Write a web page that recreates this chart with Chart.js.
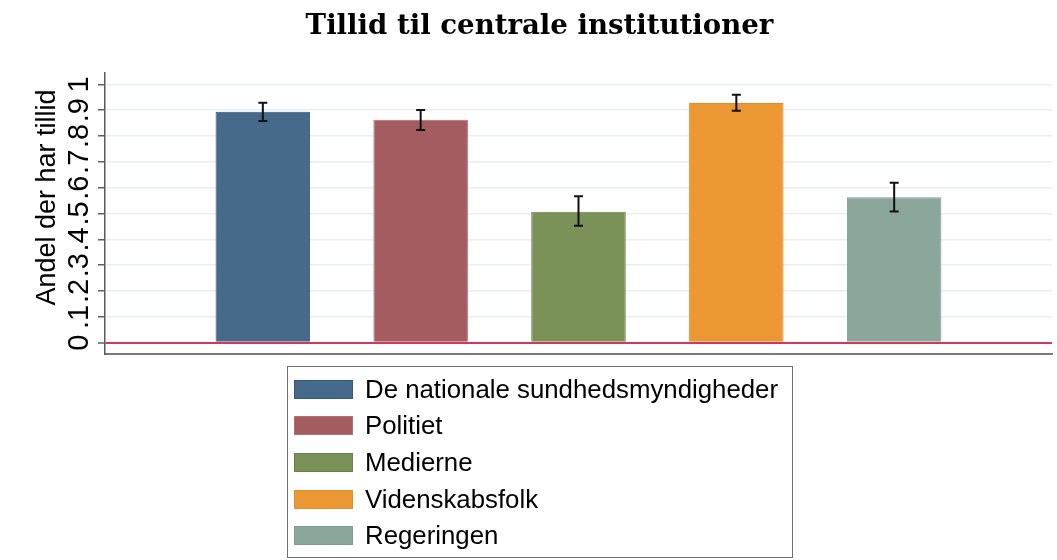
<!DOCTYPE html>
<html>
<head>
<meta charset="utf-8">
<script src="https://cdn.jsdelivr.net/npm/chart.js@4"></script>
<style>
  html, body { margin: 0; padding: 0; background: #fff; }
  #wrap { position: relative; width: 1057px; height: 560px; }
  #legend {
    position: absolute; left: 287px; top: 366px; width: 506px; height: 192px;
    border: 1.5px solid #707070; box-sizing: border-box; padding-top: 4px;
    font-family: "Liberation Sans", Arial, sans-serif; font-size: 25.8px; color: #000;
  }
  .row { display: flex; align-items: center; height: 36.67px; }
  .key { width: 59px; height: 19px; margin-left: 6px; margin-right: 12px; box-sizing: border-box; border: 1px solid; }
</style>
</head>
<body>
<div id="wrap">
  <canvas id="c" width="1057" height="560"></canvas>
  <div id="legend"></div>
</div>
<script>
/* values */
const categories = ["De nationale sundhedsmyndigheder", "Politiet", "Medierne", "Videnskabsfolk", "Regeringen"];
const shares = [0.894, 0.863, 0.507, 0.928, 0.563];
const ciLow = [0.858, 0.823, 0.453, 0.898, 0.508];
const ciHigh = [0.929, 0.901, 0.567, 0.960, 0.619];
const barColors = ["#486a8a", "#a55c60", "#7a9158", "#ea9734", "#8ba69b"];
const edgeColors = ["#35577a", "#b86e72", "#6a8049", "#e48e26", "#7f9a8f"];
const yTicks = [0, 0.1, 0.2, 0.3, 0.4, 0.5, 0.6, 0.7, 0.8, 0.9, 1];
const yTickLabels = ["0", ".1", ".2", ".3", ".4", ".5", ".6", ".7", ".8", ".9", "1"];
const titleText = "Tillid til centrale institutioner";
const yTitle = "Andel der har tillid";

/* rotated y labels + error bars */
const extras = {
  id: "extras",
  afterDatasetsDraw(chart) {
    const ctx = chart.ctx;
    const y = chart.scales.y;
    ctx.save();
    ctx.strokeStyle = "#111";
    ctx.lineWidth = 2;
    for (let i = 0; i < shares.length; i++) {
      const el = chart.getDatasetMeta(i).data[0];
      const x = el.x;
      const top = y.getPixelForValue(ciHigh[i]);
      const bot = y.getPixelForValue(ciLow[i]);
      ctx.beginPath();
      ctx.moveTo(x, top); ctx.lineTo(x, bot);
      ctx.moveTo(x - 4.5, top); ctx.lineTo(x + 4.5, top);
      ctx.moveTo(x - 4.5, bot); ctx.lineTo(x + 4.5, bot);
      ctx.stroke();
    }
    ctx.restore();
  },
  afterDraw(chart) {
    const ctx = chart.ctx;
    const y = chart.scales.y;
    ctx.save();
    ctx.fillStyle = "#000";
    ctx.textAlign = "center";
    ctx.textBaseline = "alphabetic";
    ctx.font = '29px "Liberation Sans", Arial, sans-serif';
    yTicks.forEach((v, i) => {
      ctx.save();
      ctx.translate(88, y.getPixelForValue(v));
      ctx.rotate(-Math.PI / 2);
      ctx.fillText(yTickLabels[i], 0, 0);
      ctx.restore();
    });
    ctx.font = '27px "Liberation Sans", Arial, sans-serif';
    ctx.translate(55, 197.5);
    ctx.rotate(-Math.PI / 2);
    ctx.fillText(yTitle, 0, 0);
    ctx.restore();
  }
};

const datasets = categories.map((name, i) => ({
  label: name,
  data: [shares[i]],
  backgroundColor: barColors[i],
  borderColor: edgeColors[i],
  borderWidth: 1,
  categoryPercentage: 5 / 6,
  barPercentage: 0.599
}));

new Chart(document.getElementById("c"), {
  type: "bar",
  data: { labels: [""], datasets },
  plugins: [extras],
  options: {
    responsive: false,
    animation: false,
    layout: { padding: { left: 27, right: 5, top: 0, bottom: 206 } },
    plugins: {
      legend: { display: false },
      tooltip: { enabled: false },
      title: {
        display: true,
        text: titleText,
        color: "#000",
        font: { family: '"DejaVu Serif", serif', size: 27.6, weight: "bold" },
        padding: { top: 10.5, bottom: 29.4 }
      }
    },
    scales: {
      x: {
        grid: { display: false, drawTicks: false },
        ticks: { display: false },
        border: { display: true, color: "#7a7a7a", width: 2 },
        afterFit: s => { s.height = 0; }
      },
      y: {
        min: -0.0437,
        max: 1.0437,
        afterBuildTicks: s => { s.ticks = yTicks.map(v => ({ value: v })); },
        ticks: { display: false },
        grid: {
          color: c => (c.tick && c.tick.value === 0 ? "#d2375a" : "#e8eef1"),
          lineWidth: c => (c.tick && c.tick.value === 0 ? 2 : 1.5),
          tickColor: "#606060",
          tickWidth: 1.5,
          tickLength: 7
        },
        border: { color: "#5a5a5a", width: 1.5 },
        afterFit: s => { s.width = 78; }
      }
    }
  }
});

/* legend box below the plot */
const legend = document.getElementById("legend");
categories.forEach((name, i) => {
  const row = document.createElement("div");
  row.className = "row";
  const key = document.createElement("span");
  key.className = "key";
  key.style.background = barColors[i];
  key.style.borderColor = edgeColors[i];
  const txt = document.createElement("span");
  txt.textContent = name;
  row.appendChild(key);
  row.appendChild(txt);
  legend.appendChild(row);
});
</script>
</body>
</html>
